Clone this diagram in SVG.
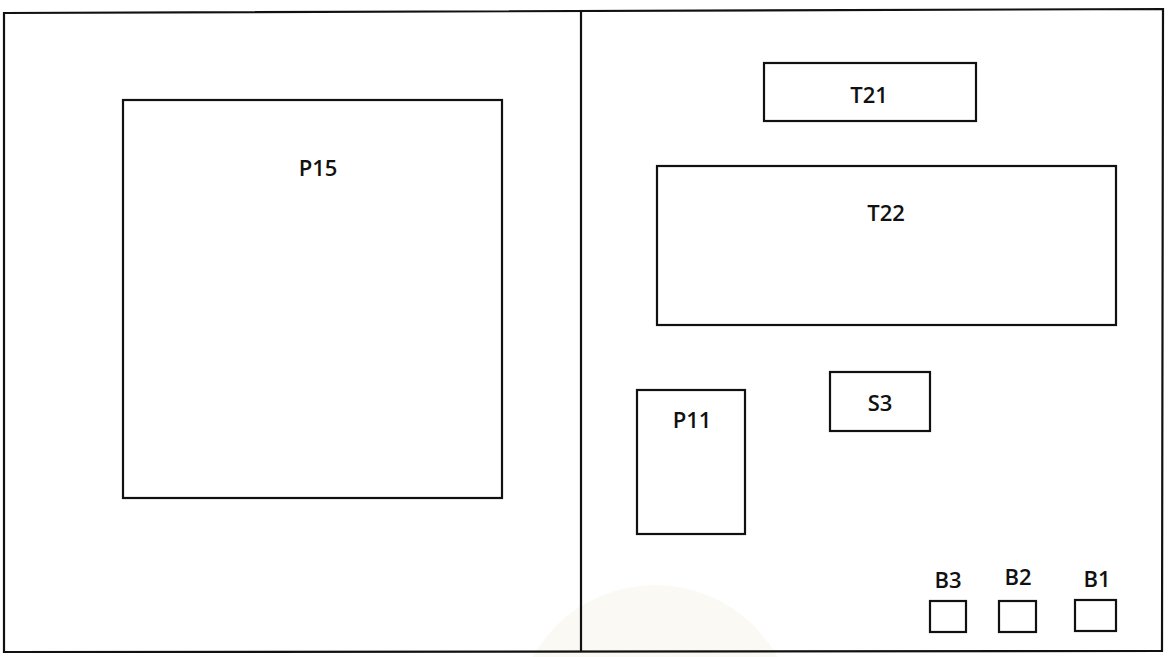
<svg xmlns="http://www.w3.org/2000/svg" width="1169" height="657" viewBox="0 0 1169 657">
<style>
.b{fill:none;stroke:#111;stroke-width:2.2}
.t{font-family:"Open Sans","Liberation Sans",sans-serif;font-size:22px;font-weight:600;fill:#111;text-anchor:middle}
</style>
<rect width="1169" height="657" fill="#fff"/>
<circle cx="655" cy="725" r="140" fill="#f6f5ec" opacity="0.6"/>
<g id="walls">
<path class="b" d="M4,13 L1163,9 L1162,651 L4,652 Z"/>
<line class="b" x1="581" y1="11" x2="581" y2="652"/>
</g>
<g id="P15"><rect class="b" x="123" y="100" width="379" height="398"/><text class="t" x="318" y="176">P15</text></g>
<g id="T21"><rect class="b" x="764" y="63" width="212" height="58"/><text class="t" x="869" y="103">T21</text></g>
<g id="T22"><rect class="b" x="657" y="166" width="459" height="159"/><text class="t" x="886" y="221">T22</text></g>
<g id="S3"><rect class="b" x="830" y="372" width="100" height="59"/><text class="t" x="880" y="411">S3</text></g>
<g id="P11"><rect class="b" x="637" y="390" width="108" height="144"/><text class="t" x="692" y="428">P11</text></g>
<g id="B3"><rect class="b" x="930" y="601" width="36" height="31"/><text class="t" x="948" y="588">B3</text></g>
<g id="B2"><rect class="b" x="999" y="601" width="37" height="31"/><text class="t" x="1018" y="585">B2</text></g>
<g id="B1"><rect class="b" x="1075" y="600" width="41" height="31"/><text class="t" x="1097" y="587">B1</text></g>
<g id="connectors"></g>
</svg>
